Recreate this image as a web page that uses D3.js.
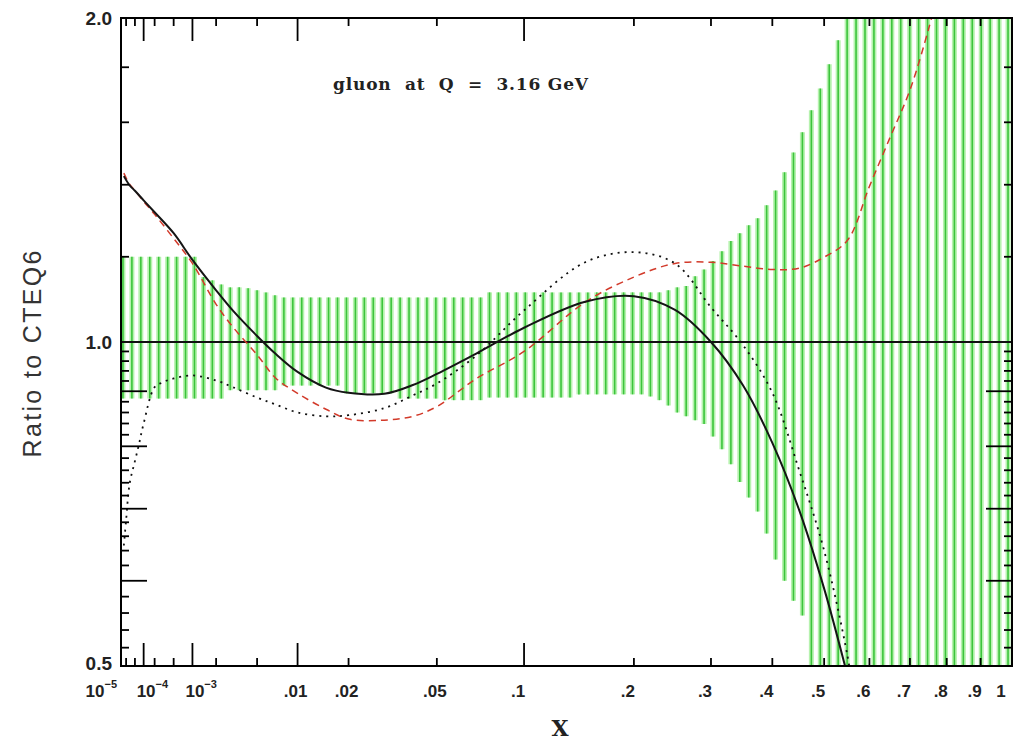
<!DOCTYPE html>
<html>
<head>
<meta charset="utf-8">
<script src="https://cdnjs.cloudflare.com/ajax/libs/d3/7.8.5/d3.min.js"></script>
<style>
body { margin: 0; background: #fff; }
svg { display: block; }
</style>
</head>
<body>
<div id="chart"></div>
<script>
var w = 1023;
var h = 741;
var margin = {left: 121, right: 11, top: 18, bottom: 75};
var width = w - margin.left - margin.right,
    height = h - margin.top - margin.bottom;

///////////////////
// THE DATA     //
/////////////////

// black solid fit
var solidX = [1.5e-5, 3e-5, 5e-5, 1e-4, 2e-4, 5e-4, 1e-3, 2e-3, 3e-3, 5e-3, 7e-3, .01, .015, .02, .03, .04, .05, .07, .1, .15, .2, .25, .3, .35, .4, .45, .5, .55];
var solidY = [1.426, 1.398, 1.382, 1.354, 1.320, 1.262, 1.192, 1.117, 1.070, 1.013, 0.975, 0.938, 0.907, 0.897, 0.895, 0.912, 0.934, 0.976, 1.031, 1.090, 1.103, 1.071, 1.000, 0.911, 0.806, 0.698, 0.590, 0.490];

// red dashed fit
var dashX = [1.5e-5, 3e-5, 5e-5, 1e-4, 2e-4, 5e-4, 1e-3, 2e-3, 3e-3, 5e-3, 7e-3, .01, .015, .02, .03, .04, .05, .07, .1, .15, .2, .25, .3, .35, .4, .45, .5, .55, .6, .65, .7, .75, .77];
var dashY = [1.435, 1.401, 1.383, 1.351, 1.314, 1.248, 1.183, 1.084, 1.033, 0.973, 0.926, 0.896, 0.866, 0.848, 0.846, 0.853, 0.871, 0.925, 0.980, 1.089, 1.149, 1.183, 1.186, 1.176, 1.168, 1.171, 1.199, 1.243, 1.395, 1.550, 1.714, 1.956, 2.080];

// black dotted fit
var dotX = [1.5e-5, 2e-5, 3e-5, 5e-5, 7e-5, 1e-4, 2e-4, 3e-4, 5e-4, 1e-3, 2e-3, 3e-3, 5e-3, 7e-3, .01, .015, .02, .03, .04, .05, .07, .1, .15, .2, .25, .3, .35, .4, .45, .5, .55, .56];
var dotY = [0.647, 0.683, 0.739, 0.775, 0.803, 0.840, 0.908, 0.917, 0.925, 0.931, 0.921, 0.908, 0.888, 0.875, 0.860, 0.853, 0.855, 0.868, 0.892, 0.915, 0.972, 1.070, 1.186, 1.212, 1.183, 1.077, 0.993, 0.897, 0.760, 0.640, 0.511, 0.480];

// CTEQ6 uncertainty band, sampled on an even grid in the plot's x
var bandStart = 1.33e-5, bandEnd = 0.987;
var bandHi = [1.20, 1.20, 1.20, 1.20, 1.20, 1.20, 1.20, 1.20, 1.20,
  1.149, 1.141, 1.131, 1.124, 1.124, 1.122, 1.117, 1.112, 1.105,
  1.10, 1.10, 1.10, 1.10, 1.10, 1.10, 1.10, 1.10, 1.10, 1.10, 1.10, 1.10, 1.10, 1.10, 1.10, 1.10, 1.10, 1.10, 1.10, 1.10, 1.10, 1.10, 1.10,
  1.112, 1.112, 1.112, 1.112, 1.112, 1.112, 1.112, 1.112, 1.112, 1.112, 1.112, 1.112, 1.112, 1.112, 1.112, 1.112, 1.112, 1.112, 1.112, 1.112,
  1.117, 1.124, 1.127, 1.151, 1.168, 1.189, 1.214, 1.241, 1.262, 1.284, 1.303, 1.34, 1.383, 1.438, 1.50, 1.566, 1.642, 1.72, 1.812, 1.907, 2.0,
  2.2, 2.2, 2.2, 2.2, 2.2, 2.2, 2.2, 2.2, 2.2, 2.2, 2.2, 2.2, 2.2, 2.2, 2.2, 2.2, 2.2, 2.2];
var bandLo = [0.886, 0.886, 0.886, 0.886, 0.886, 0.886, 0.886, 0.886, 0.886, 0.886, 0.886, 0.886,
  0.902, 0.902, 0.902, 0.902, 0.902, 0.902,
  0.911, 0.911, 0.911, 0.911, 0.911, 0.911, 0.911,
  0.896, 0.896, 0.896, 0.896, 0.896, 0.896,
  0.886, 0.886, 0.886, 0.886, 0.886,
  0.883, 0.883, 0.883, 0.883, 0.883,
  0.888, 0.888, 0.888, 0.888, 0.888, 0.888, 0.888, 0.888, 0.888, 0.888,
  0.894, 0.894, 0.894, 0.894, 0.894, 0.894, 0.894, 0.894,
  0.890, 0.883, 0.873, 0.860, 0.853, 0.846, 0.839, 0.817, 0.795, 0.770, 0.741, 0.717, 0.696, 0.664, 0.628, 0.600, 0.575, 0.557,
  0.45, 0.45, 0.45, 0.45, 0.45, 0.45, 0.45, 0.45, 0.45, 0.45, 0.45, 0.45, 0.45, 0.45, 0.45, 0.45, 0.45, 0.45, 0.45, 0.45, 0.45, 0.45, 0.45];

// ticks and labels
var xMajor = [1e-5, 1e-4, 1e-3, .01, .1, 1];
var xMinor = [2e-5, 5e-5, 2e-4, 5e-4, 2e-3, 5e-3, .02, .05, .2, .3, .4, .5, .6, .7, .8, .9];
var xLabelVals = [1e-5, 1e-4, 1e-3, .01, .02, .05, .1, .2, .3, .4, .5, .6, .7, .8, .9, 1];
var xLabelText = ["10^-5", "10^-4", "10^-3", ".01", ".02", ".05", ".1", ".2", ".3", ".4", ".5", ".6", ".7", ".8", ".9", "1"];
var yMajor = [0.6, 0.7, 0.8, 0.9];
var yMinor = [0.52, 0.54, 0.56, 0.58, 0.62, 0.64, 0.66, 0.68, 0.72, 0.74, 0.76, 0.78, 0.82, 0.84, 0.86, 0.88, 0.92, 0.94, 0.96, 0.98, 1.2, 1.4, 1.6, 1.8];
var yLabelVals = [0.5, 1.0, 2.0];
var yLabelText = ["0.5", "1.0", "2.0"];

///////////////////
// THE CHART    //
/////////////////

var svg = d3.select("#chart")
    .append("svg")
    .attr("width", w)
    .attr("height", h);

var xScale = d3.scalePow().exponent(1 / 3).domain([1e-5, 1]).range([0, width]),
    yScale = d3.scaleLog().domain([0.5, 2]).range([height, 0]);

svg.append("defs").append("clipPath")
    .attr("id", "clip")
    .append("rect")
    .attr("width", width)
    .attr("height", height);

var g = svg.append("g")
    .attr("transform", "translate(" + margin.left + "," + margin.top + ")");

var plot = g.append("g").attr("clip-path", "url(#clip)");

// uncertainty band as vertical lines
var bandPos = d3.scalePoint()
    .domain(d3.range(bandHi.length))
    .range([xScale(bandStart), xScale(bandEnd)]);

var band = plot.selectAll(".band")
    .data(bandHi)
    .enter().append("g")
    .attr("class", "band");

band.append("line")
    .attr("x1", function(d, i) { return bandPos(i); })
    .attr("x2", function(d, i) { return bandPos(i); })
    .attr("y1", function(d, i) { return yScale(bandLo[i]); })
    .attr("y2", function(d) { return yScale(d); })
    .attr("stroke", "#b6f2ae")
    .attr("stroke-width", 5);

band.append("line")
    .attr("x1", function(d, i) { return bandPos(i); })
    .attr("x2", function(d, i) { return bandPos(i); })
    .attr("y1", function(d, i) { return yScale(bandLo[i]); })
    .attr("y2", function(d) { return yScale(d); })
    .attr("stroke", "#3cc43c")
    .attr("stroke-width", 1.6);

// ratio = 1 reference
plot.append("line")
    .attr("x1", 0)
    .attr("x2", width)
    .attr("y1", yScale(1))
    .attr("y2", yScale(1))
    .attr("stroke", "#111")
    .attr("stroke-width", 2);

var line = d3.line()
    .x(function(d) { return xScale(d[0]); })
    .y(function(d) { return yScale(d[1]); })
    .curve(d3.curveCatmullRom);

plot.append("path")
    .datum(d3.zip(dotX, dotY))
    .attr("d", line)
    .attr("fill", "none")
    .attr("stroke", "#111")
    .attr("stroke-width", 1.8)
    .attr("stroke-dasharray", "2,5");

plot.append("path")
    .datum(d3.zip(dashX, dashY))
    .attr("d", line)
    .attr("fill", "none")
    .attr("stroke", "#d23a2a")
    .attr("stroke-width", 1.5)
    .attr("stroke-dasharray", "7,5");

plot.append("path")
    .datum(d3.zip(solidX, solidY))
    .attr("d", line)
    .attr("fill", "none")
    .attr("stroke", "#151515")
    .attr("stroke-width", 2);

// frame
g.append("rect")
    .attr("width", width)
    .attr("height", height)
    .attr("fill", "none")
    .attr("stroke", "#000")
    .attr("stroke-width", 2);

// x ticks, bottom and top
var xt = xMajor.map(function(v) { return {v: v, len: 23}; })
    .concat(xMinor.map(function(v) { return {v: v, len: 8}; }));

g.selectAll(".xtick-b").data(xt).enter().append("line")
    .attr("x1", function(d) { return xScale(d.v); })
    .attr("x2", function(d) { return xScale(d.v); })
    .attr("y1", height)
    .attr("y2", function(d) { return height - d.len; })
    .attr("stroke", "#000").attr("stroke-width", 1.8);

g.selectAll(".xtick-t").data(xt).enter().append("line")
    .attr("x1", function(d) { return xScale(d.v); })
    .attr("x2", function(d) { return xScale(d.v); })
    .attr("y1", 0)
    .attr("y2", function(d) { return d.len; })
    .attr("stroke", "#000").attr("stroke-width", 1.8);

// y ticks, left and right
var yt = yMajor.map(function(v) { return {v: v, len: 26}; })
    .concat(yMinor.map(function(v) { return {v: v, len: 8}; }));

g.selectAll(".ytick-l").data(yt).enter().append("line")
    .attr("x1", 0)
    .attr("x2", function(d) { return d.len; })
    .attr("y1", function(d) { return yScale(d.v); })
    .attr("y2", function(d) { return yScale(d.v); })
    .attr("stroke", "#000").attr("stroke-width", 1.8);

g.selectAll(".ytick-r").data(yt).enter().append("line")
    .attr("x1", width)
    .attr("x2", function(d) { return width - d.len; })
    .attr("y1", function(d) { return yScale(d.v); })
    .attr("y2", function(d) { return yScale(d.v); })
    .attr("stroke", "#000").attr("stroke-width", 1.8);

// x tick labels
var xl = g.selectAll(".xlabel")
    .data(xLabelVals)
    .enter().append("text")
    .attr("class", "xlabel")
    .attr("x", function(d, i) {
        var t = xLabelText[i];
        if (t.indexOf("^") > 0) return xScale(d) + (i === 0 ? -4 : -7);
        if (d === 1) return xScale(d) - 11;
        return xScale(d) + (d >= 0.1 ? -6 : -2);
    })
    .attr("y", height + 31)
    .attr("text-anchor", function(d, i) {
        var t = xLabelText[i];
        if (t.indexOf("^") > 0) return i === 0 ? "end" : "start";
        return "middle";
    })
    .style("font-family", "Liberation Sans, Arial, sans-serif")
    .style("font-weight", "bold")
    .style("font-size", "17px")
    .attr("fill", "#222");

xl.each(function(d, i) {
    var t = xLabelText[i], el = d3.select(this);
    if (t.indexOf("^") > 0) {
        var parts = t.split("^");
        el.append("tspan").text(parts[0]);
        el.append("tspan").attr("dy", -9).style("font-size", "11px")
            .text(parts[1].replace("-", "\u2212"));
    } else {
        el.text(t);
    }
});

// y tick labels
g.selectAll(".ylabel")
    .data(yLabelVals)
    .enter().append("text")
    .attr("x", -9)
    .attr("y", function(d) { return yScale(d); })
    .attr("dy", function(d) { return d === 0.5 ? "0.2em" : "0.36em"; })
    .attr("text-anchor", "end")
    .style("font-family", "Liberation Sans, Arial, sans-serif")
    .style("font-weight", "bold")
    .style("font-size", "19px")
    .attr("fill", "#222")
    .text(function(d, i) { return yLabelText[i]; });

// axis titles
svg.append("text")
    .attr("x", 560)
    .attr("y", 736)
    .attr("text-anchor", "middle")
    .style("font-family", "DejaVu Serif, serif")
    .style("font-weight", "bold")
    .style("font-size", "22px")
    .attr("fill", "#222")
    .text("X");

svg.append("text")
    .attr("transform", "translate(41," + (margin.top + height / 2 + 12) + ") rotate(-90)")
    .attr("text-anchor", "middle")
    .attr("textLength", 207)
    .attr("lengthAdjust", "spacing")
    .style("font-family", "Liberation Sans, Arial, sans-serif")
    .style("font-size", "25px")
    .attr("fill", "#333")
    .text("Ratio to CTEQ6");

// plot title
svg.append("text")
    .attr("x", 333)
    .attr("y", 90)
    .attr("textLength", 255)
    .attr("lengthAdjust", "spacing")
    .style("white-space", "pre")
    .style("font-family", "DejaVu Serif, serif")
    .style("font-weight", "bold")
    .style("font-size", "17px")
    .attr("fill", "#222")
    .text("gluon  at  Q  =  3.16 GeV");
</script>
</body>
</html>
